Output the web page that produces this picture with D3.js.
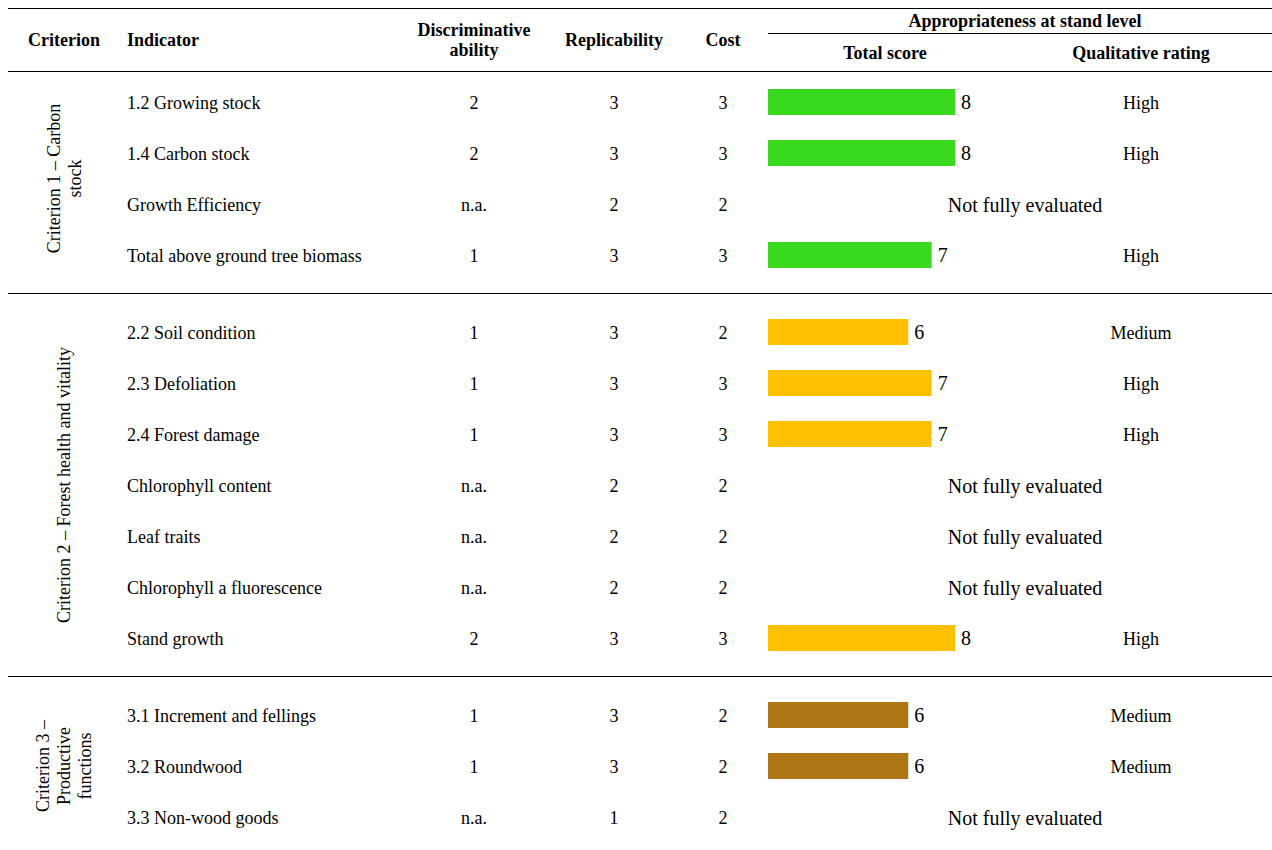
<!DOCTYPE html>
<html>
<head>
<meta charset="utf-8">
<script src="https://cdn.jsdelivr.net/npm/d3@7"></script>
<style>
  body { margin: 0; background: #fff; }
  svg { display: block; font-family: "Liberation Serif", "Times New Roman", serif; }
</style>
</head>
<body>
<svg id="chart" width="1272" height="850"></svg>
<script>
// criteria (rotated labels, split into lines)
const criteria = [
   ['Criterion 1 – Carbon', 'stock'],
   ['Criterion 2 – Forest health and vitality'],
   ['Criterion 3 –', 'Productive', 'functions']
];

const indicators = [
   '1.2 Growing stock', '1.4 Carbon stock', 'Growth Efficiency', 'Total above ground tree biomass',
   '2.2 Soil condition', '2.3 Defoliation', '2.4 Forest damage', 'Chlorophyll content',
   'Leaf traits', 'Chlorophyll a fluorescence', 'Stand growth',
   '3.1 Increment and fellings', '3.2 Roundwood', '3.3 Non-wood goods'
];
const groupOf = [0, 0, 0, 0, 1, 1, 1, 1, 1, 1, 1, 2, 2, 2];
const discriminative = ['2', '2', 'n.a.', '1', '1', '1', '1', 'n.a.', 'n.a.', 'n.a.', '2', '1', '1', 'n.a.'];
const replicability = [3, 3, 2, 3, 3, 3, 3, 2, 2, 2, 3, 3, 3, 1];
const cost = [3, 3, 2, 3, 2, 3, 3, 2, 2, 2, 3, 2, 2, 2];
const totalScore = [8, 8, null, 7, 6, 7, 7, null, null, null, 8, 6, 6, null];
const rating = ['High', 'High', null, 'High', 'Medium', 'High', 'High', null, null, null, 'High', 'Medium', 'Medium', null];
const groupColors = ['#38d91f', '#ffc000', '#ae7614'];

const svg = d3.select('#chart');

// layout
let o = {
   left: 8, right: 1272,
   cols: { criterion: 64, indicator: 127, disc: 474, repl: 614, cost: 723, rating: 1141, notEval: 1025 },
   font: { body: 18, big: 20 }
};

// vertical position of each row: rows 51px apart, extra 26px between criterion groups
let slot = i => i + groupOf[i] * (26 / 51);
let y = d3.scaleLinear().domain([0, 1]).range([102, 153]);
let x = d3.scaleLinear().domain([0, 8]).range([768, 955]);

let rows = indicators.map((name, i) => ({
   name, i, g: groupOf[i], disc: discriminative[i], repl: replicability[i],
   cost: cost[i], score: totalScore[i], rating: rating[i], y: y(slot(i))
}));

// horizontal rules
let line = (x1, x2, yy) => svg.append('line')
   .attr('x1', x1).attr('x2', x2).attr('y1', yy).attr('y2', yy)
   .attr('stroke', '#000').attr('stroke-width', 1.2);

line(o.left, o.right, 8.5);
line(o.left, o.right, 71.5);
line(x(0), o.right, 33.5);
[0, 1].forEach(g => {
   let last = rows.filter(r => r.g === g).pop();
   line(o.left, o.right, Math.round(last.y + 38) + 0.5);
});

// header
let head = svg.append('g').style('font-weight', 'bold').style('font-size', o.font.body + 'px')
   .attr('fill', '#000');
let hText = (t, xx, yy, anchor = 'middle') => head.append('text')
   .attr('x', xx).attr('y', yy).attr('text-anchor', anchor).text(t);

hText('Criterion', o.cols.criterion, 46);
hText('Indicator', o.cols.indicator, 46, 'start');
hText('Discriminative', o.cols.disc, 36);
hText('ability', o.cols.disc, 56);
hText('Replicability', o.cols.repl, 46);
hText('Cost', o.cols.cost, 46);
hText('Appropriateness at stand level', 1025, 27);
hText('Total score', 885, 59);
hText('Qualitative rating', o.cols.rating, 59);

// criterion labels (rotated)
criteria.forEach((lines, g) => {
   let ys = rows.filter(r => r.g === g).map(r => r.y);
   let cy = (d3.min(ys) + d3.max(ys)) / 2;
   let lh = 21;
   let t = svg.append('text')
      .attr('transform', `translate(${o.cols.criterion},${cy}) rotate(-90)`)
      .attr('text-anchor', 'middle')
      .style('font-size', o.font.body + 'px');
   lines.forEach((l, k) => {
      t.append('tspan')
         .attr('x', 0)
         .attr('y', (k - (lines.length - 1) / 2) * lh + 6)
         .text(l);
   });
});

// body rows
let body = svg.append('g').style('font-size', o.font.body + 'px').attr('fill', '#000');
let row = body.selectAll('g.row').data(rows).enter()
   .append('g').attr('class', 'row')
   .attr('transform', d => `translate(0,${d.y})`);

row.append('text').attr('x', o.cols.indicator).attr('dy', 7).text(d => d.name);
row.append('text').attr('x', o.cols.disc).attr('dy', 7).attr('text-anchor', 'middle').text(d => d.disc);
row.append('text').attr('x', o.cols.repl).attr('dy', 7).attr('text-anchor', 'middle').text(d => d.repl);
row.append('text').attr('x', o.cols.cost).attr('dy', 7).attr('text-anchor', 'middle').text(d => d.cost);

let scored = row.filter(d => d.score !== null);
scored.append('rect')
   .attr('x', x(0)).attr('y', -13)
   .attr('width', d => x(d.score) - x(0)).attr('height', 26)
   .attr('fill', d => groupColors[d.g]);
scored.append('text')
   .attr('x', d => x(d.score) + 6).attr('dy', 7)
   .style('font-size', o.font.big + 'px')
   .text(d => d.score);
scored.append('text')
   .attr('x', o.cols.rating).attr('dy', 7).attr('text-anchor', 'middle')
   .text(d => d.rating);

row.filter(d => d.score === null).append('text')
   .attr('x', o.cols.notEval).attr('dy', 8).attr('text-anchor', 'middle')
   .style('font-size', o.font.big + 'px')
   .text('Not fully evaluated');
</script>
</body>
</html>
